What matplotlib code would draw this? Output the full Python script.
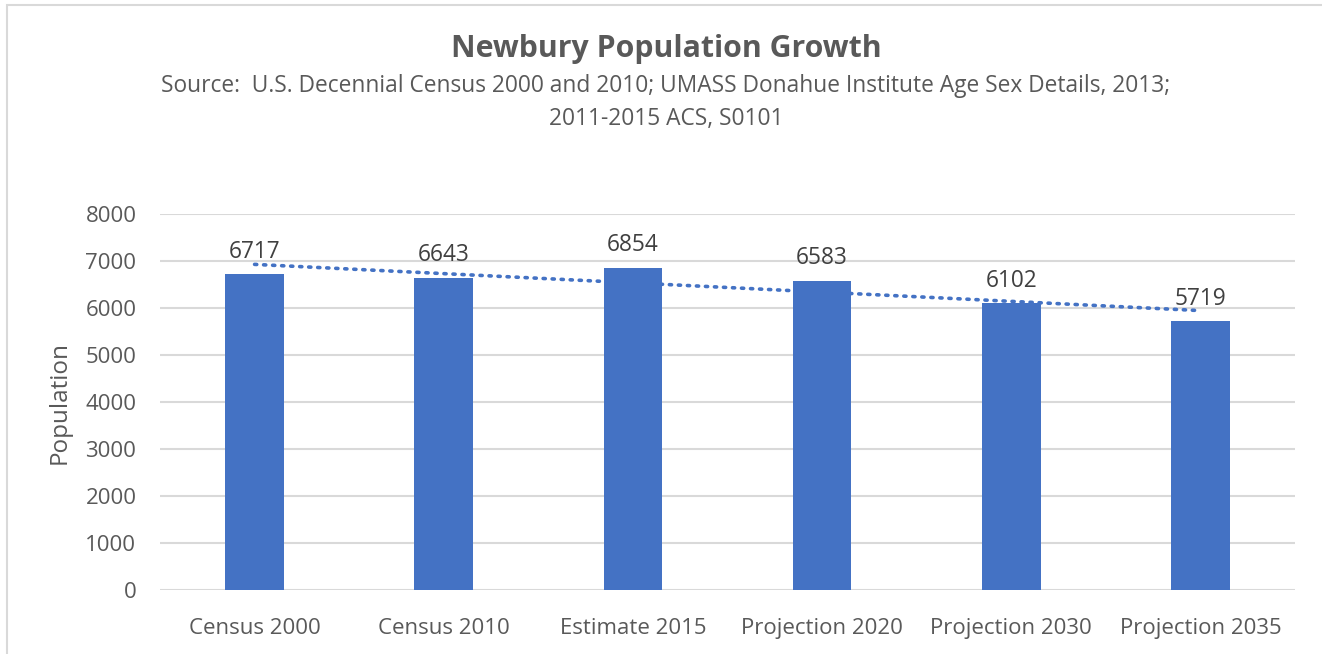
import numpy as np
import matplotlib
matplotlib.use("Agg")
import matplotlib.pyplot as plt
from matplotlib.patches import Rectangle

plt.rcParams['font.family'] = ['Open Sans', 'DejaVu Sans']

categories = ["Census 2000", "Census 2010", "Estimate 2015",
              "Projection 2020", "Projection 2030", "Projection 2035"]
population = [6717, 6643, 6854, 6583, 6102, 5719]
y_ticks = [0, 1000, 2000, 3000, 4000, 5000, 6000, 7000, 8000]

title = "Newbury Population Growth"
subtitle = ("Source:  U.S. Decennial Census 2000 and 2010; UMASS Donahue Institute Age Sex Details, 2013;\n"
            "2011-2015 ACS, S0101")

BAR = "#4472C4"
GRID = "#D9D9D9"
TEXT = "#595959"
LABEL = "#404040"

W, H = 1322, 654
fig = plt.figure(figsize=(W / 100, H / 100), dpi=100)
fig.patch.set_facecolor("white")

# chart border
fig.add_artist(Rectangle((7 / W, -0.05), 1.1, 1 - 5 / H + 0.05,
                         transform=fig.transFigure, fill=False,
                         edgecolor=GRID, linewidth=1.5))

left, right = 160 / W, 1295 / W
bottom, top = 1 - 590 / H, 1 - 214 / H
ax = fig.add_axes([left, bottom, right - left, top - bottom])

x = np.arange(len(categories))
bars = ax.bar(x, population, width=0.31, color=BAR, zorder=3)

# linear trendline
coef = np.polyfit(x + 1, population, 1)
trend = np.polyval(coef, x + 1)
ax.plot(x, trend, linestyle=(0, (0.6, 1.9)), color=BAR, linewidth=2.6,
        dash_capstyle="round", zorder=2)

for xi, v in zip(x, population):
    ax.annotate(f"{v}", (xi, v), xytext=(0, 7.5), textcoords="offset points",
                ha="center", va="bottom", fontsize=16.3, color=LABEL, zorder=4)

ax.set_xlim(-0.5, len(categories) - 0.5)
ax.set_ylim(0, 8000)
ax.set_yticks(y_ticks)
ax.set_yticklabels([str(t) for t in y_ticks])
ax.set_xticks(x)
ax.set_xticklabels(categories)
ax.tick_params(axis="both", length=0, labelsize=16, labelcolor=TEXT)
ax.tick_params(axis="y", pad=17)
ax.tick_params(axis="x", pad=20)
ax.grid(axis="y", color=GRID, linewidth=1.5, zorder=0)
ax.set_axisbelow(True)
for s in ax.spines.values():
    s.set_visible(False)

ax.set_ylabel("Population", fontsize=17.5, color=TEXT, labelpad=10)

cx = 666 / W
fig.text(cx, 1 - 49 / H, title, ha="center", va="center",
         fontsize=21.8, fontweight="bold", color=TEXT)
fig.text(cx, 1 - 102 / H, subtitle, ha="center", va="center",
         fontsize=16.4, color=TEXT, linespacing=1.5)

fig.savefig("out.png", dpi=100, facecolor="white")
